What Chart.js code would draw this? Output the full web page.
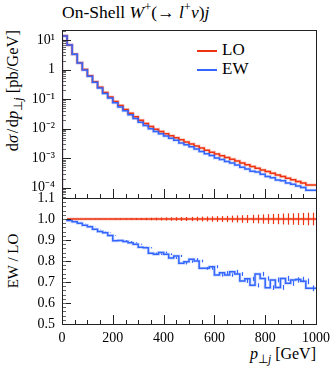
<!DOCTYPE html>
<html>
<head>
<meta charset="utf-8">
<script src="https://cdn.jsdelivr.net/npm/chart.js@4.4.1/dist/chart.umd.min.js"></script>
<style>
  body { margin: 0; background: #fff; }
  #wrap { position: relative; width: 332px; height: 367px; font-family: "Liberation Serif", serif; color: #000; overflow: hidden; }
  canvas { position: absolute; left: 0; }
  .t { position: absolute; white-space: nowrap; line-height: 1; }
  .t sup, .t sub { font-size: 72%; line-height: 0; }
  .sw { position: absolute; height: 2px; }
  .m { margin: 0 1.5px; }
</style>
</head>
<body>
<div id="wrap">
  <div class="t" style="left:62px;top:4px;font-size:17.5px;">On-Shell <i>W</i><sup>+</sup>(→ <i>l</i><sup>+</sup><i>ν</i>)<i>j</i></div>
  <div class="t" style="left:13px;top:30px;font-size:16.5px;transform-origin:0 0;transform:rotate(-90deg) translate(-100%,-50%);">d<i>σ</i><span class="m">/</span>d<i>p</i><sub>⊥<i>j</i></sub> [pb/GeV]</div>
  <div class="t" style="left:13px;top:261px;font-size:15px;transform-origin:0 0;transform:rotate(-90deg) translate(-50%,-50%);">EW / LO</div>
  <div class="t" style="right:16px;top:346px;font-size:16px;"><i>p</i><sub>⊥<i>j</i></sub> [GeV]</div>
  <div class="sw" style="left:197px;top:50px;width:20px;background:#ee3311;"></div>
  <div class="t" style="left:222px;top:41px;font-size:17px;">LO</div>
  <div class="sw" style="left:197px;top:69px;width:20px;background:#3366ff;"></div>
  <div class="t" style="left:222px;top:60px;font-size:17px;">EW</div>
  <canvas id="main" width="332" height="178" style="top:20px"></canvas>
  <canvas id="ratio" width="332" height="179" style="top:188px"></canvas>
</div>
<script>
// bin edges in GeV (20 GeV bins)
const binEdges = [0, 20, 40, 60, 80, 100, 120, 140, 160, 180, 200, 220, 240, 260, 280, 300,
  320, 340, 360, 380, 400, 420, 440, 460, 480, 500, 520, 540, 560, 580, 600, 620, 640, 660,
  680, 700, 720, 740, 760, 780, 800, 820, 840, 860, 880, 900, 920, 940, 960, 980, 1000];

// dsigma/dpT [pb/GeV] per bin, first bin empty
const loXsec = [0, 13.8, 6.76, 3.31, 1.70, 1.00, 0.617, 0.389, 0.251, 0.166, 0.1175, 0.0832,
  0.0603, 0.0447, 0.0331, 0.0251, 0.0191, 0.0148, 0.01175, 0.00955, 0.00794, 0.00676, 0.00575,
  0.0049, 0.00417, 0.00355, 0.00302, 0.00257, 0.00219, 0.00186, 0.00158, 0.00138, 0.0012,
  0.00105, 0.000912, 0.000794, 0.000692, 0.000603, 0.000525, 0.000457, 0.000398, 0.000355,
  0.000309, 0.000269, 0.00024, 0.000209, 0.000186, 0.000162, 0.000145, 0.000123];
const ewXsec = [0, 13.73, 6.71, 3.27, 1.666, 0.970, 0.594, 0.370, 0.236, 0.155, 0.1083, 0.0746,
  0.0541, 0.0399, 0.0294, 0.0221, 0.01652, 0.01277, 0.00983, 0.00795, 0.00668, 0.00562, 0.00468,
  0.00404, 0.00329, 0.00283, 0.00244, 0.002056, 0.001675, 0.001423, 0.001221, 0.001012, 0.000893,
  0.00077, 0.000683, 0.000586, 0.000488, 0.000431, 0.000359, 0.000337, 0.000285, 0.000239,
  0.000219, 0.000181, 0.000172, 0.000145, 0.000132, 0.000115, 0.000102, 0.0000824];

// ratio to LO, bins from 20 GeV on
const loRatio = [1, 1, 1, 1, 1, 1, 1, 1, 1, 1, 1, 1, 1, 1, 1, 1, 1, 1, 1, 1, 1, 1, 1, 1, 1,
  1, 1, 1, 1, 1, 1, 1, 1, 1, 1, 1, 1, 1, 1, 1, 1, 1, 1, 1, 1, 1, 1, 1, 1];
const ewRatio = [0.995, 0.993, 0.987, 0.980, 0.970, 0.963, 0.951, 0.940, 0.935, 0.922,
  0.897, 0.898, 0.893, 0.887, 0.880, 0.865, 0.863, 0.837, 0.832, 0.841,
  0.832, 0.814, 0.824, 0.789, 0.797, 0.808, 0.800, 0.765, 0.765, 0.773,
  0.733, 0.744, 0.733, 0.749, 0.738, 0.705, 0.715, 0.684, 0.738, 0.717,
  0.673, 0.710, 0.674, 0.717, 0.694, 0.710, 0.712, 0.703, 0.670];
const loRatioErr = [0.0005, 0.0005, 0.0007, 0.0009, 0.001, 0.0012, 0.0015, 0.0018, 0.002, 0.0025,
  0.003, 0.0035, 0.004, 0.0045, 0.005, 0.0055, 0.006, 0.0065, 0.007, 0.0075,
  0.008, 0.0085, 0.009, 0.0095, 0.010, 0.011, 0.0115, 0.012, 0.013, 0.0135,
  0.014, 0.015, 0.016, 0.017, 0.018, 0.019, 0.020, 0.021, 0.022, 0.023,
  0.024, 0.025, 0.026, 0.027, 0.027, 0.028, 0.029, 0.030, 0.030];
const ewRatioErr = [0.0003, 0.0003, 0.0004, 0.0005, 0.0006, 0.0007, 0.0008, 0.001, 0.0012, 0.0014,
  0.0016, 0.0018, 0.002, 0.0022, 0.0025, 0.0028, 0.003, 0.0033, 0.0036, 0.004,
  0.0043, 0.0046, 0.005, 0.0053, 0.0056, 0.006, 0.0063, 0.0066, 0.007, 0.0073,
  0.0076, 0.008, 0.0083, 0.0086, 0.009, 0.0093, 0.0096, 0.01, 0.0103, 0.0106,
  0.011, 0.0113, 0.0116, 0.012, 0.0123, 0.0126, 0.013, 0.0133, 0.0136];

const mainTickValues = [10, 1, 0.1, 0.01, 0.001, 0.0001];
const mainTickLabels = ["10¹", "1", "10⁻¹", "10⁻²", "10⁻³", "10⁻⁴"];
const ratioTickValues = [0.5, 0.6, 0.7, 0.8, 0.9, 1.0, 1.1];
const xTickValues = [0, 200, 400, 600, 800, 1000];

const RED = "#ee3311", BLUE = "#3366ff";
const RED_BAND = "rgba(238,51,17,0.25)", BLUE_BAND = "rgba(51,102,255,0.25)";
const MAIN_MIN = 4.48e-5, MAIN_MAX = 21.8;
Chart.defaults.font.family = "'Liberation Serif', serif";
Chart.defaults.font.size = 14;
Chart.defaults.color = "#000";

// histogram -> step points (last edge repeats last value); empty bins sit on the axis floor
function steps(edges, vals, floor) {
  const pts = vals.map((v, i) => ({ x: edges[i], y: v > 0 ? v : floor }));
  pts.push({ x: edges[vals.length], y: vals[vals.length - 1] });
  return pts;
}

// fixed plot box: no automatic label padding
function fixBox(s, size) {
  if (s.isHorizontal()) s.height = size; else s.width = size;
  s.paddingTop = s.paddingBottom = s.paddingLeft = s.paddingRight = 0;
}

// frame + inward ticks, Rivet style
const frameTicks = {
  id: "frameTicks",
  afterDraw(chart, args, o) {
    const { ctx, chartArea: a, scales } = chart;
    ctx.save();
    ctx.strokeStyle = "#222";
    ctx.lineWidth = 1;
    const seg = (x1, y1, x2, y2) => { ctx.beginPath(); ctx.moveTo(x1, y1); ctx.lineTo(x2, y2); ctx.stroke(); };
    for (let v = 0; v <= 1000; v += 50) {
      const px = Math.round(scales.x.getPixelForValue(v)) + 0.5;
      seg(px, a.bottom, px, a.bottom - (v % 200 === 0 ? 9 : 4));
    }
    o.yMajor.forEach(v => {
      const py = Math.round(scales.y.getPixelForValue(v)) + 0.5;
      seg(a.left, py, a.left + 9, py);
    });
    ctx.strokeStyle = "#666";
    o.yMinor.forEach(v => {
      if (v <= scales.y.min || v >= scales.y.max) return;
      const py = Math.round(scales.y.getPixelForValue(v)) + 0.5;
      seg(a.left, py, a.left + 4, py);
    });
    ctx.strokeStyle = "#222";
    ctx.strokeRect(Math.round(a.left) + 0.5, Math.round(a.top) + 0.5, Math.round(a.right - a.left), Math.round(a.bottom - a.top));
    ctx.restore();
  }
};

// vertical error bars at bin centres
const errorBars = {
  id: "errorBars",
  afterDatasetsDraw(chart) {
    const { ctx, chartArea: a, scales } = chart;
    ctx.save();
    ctx.beginPath();
    ctx.rect(a.left, a.top, a.right - a.left, a.bottom - a.top);
    ctx.clip();
    chart.data.datasets.forEach(ds => {
      if (!ds.errs) return;
      ctx.strokeStyle = ds.borderColor;
      ctx.lineWidth = 1.2;
      ds.errs.forEach((e, i) => {
        const lo = ds.data[i].x, hi = ds.data[i + 1].x;
        const px = Math.round((scales.x.getPixelForValue(lo) + scales.x.getPixelForValue(hi)) / 2) + 0.5;
        const v = ds.data[i].y;
        ctx.beginPath();
        ctx.moveTo(px, scales.y.getPixelForValue(v - e));
        ctx.lineTo(px, scales.y.getPixelForValue(v + e));
        ctx.stroke();
      });
    });
    ctx.restore();
  }
};

const logMinor = [];
for (let d = -5; d <= 1; d++) for (let k = 2; k <= 9; k++) logMinor.push(k * Math.pow(10, d));
const linMinor = [];
for (let v = 50; v <= 110; v += 2) linMinor.push(v / 100);

const lineDs = (label, data, color, width, order) => ({
  label, data, borderColor: color, borderWidth: width, stepped: "after",
  pointRadius: 0, fill: false, order, tension: 0
});

const noGrid = { display: false, drawTicks: false };

new Chart(document.getElementById("main"), {
  type: "line",
  data: {
    datasets: [
      lineDs("EW", steps(binEdges, ewXsec, MAIN_MIN), BLUE, 1.5, 0),
      lineDs("LO", steps(binEdges, loXsec, MAIN_MIN), RED, 1.5, 1),
      lineDs("EW band", steps(binEdges, ewXsec, MAIN_MIN), BLUE_BAND, 3, 2),
      lineDs("LO band", steps(binEdges, loXsec, MAIN_MIN), RED_BAND, 3, 3)
    ]
  },
  options: {
    responsive: false, animation: false,
    layout: { padding: { left: 0, right: 16, top: 10, bottom: 0 } },
    plugins: { legend: { display: false }, tooltip: { enabled: false },
      frameTicks: { yMajor: mainTickValues, yMinor: logMinor } },
    scales: {
      x: { type: "linear", min: 0, max: 1000, display: false },
      y: {
        type: "logarithmic", min: MAIN_MIN, max: MAIN_MAX,
        grid: noGrid, border: { display: false },
        ticks: { padding: 7, callback: v => { const i = mainTickValues.indexOf(v); return i >= 0 ? mainTickLabels[i] : ""; } },
        afterBuildTicks: s => { s.ticks = mainTickValues.map(v => ({ value: v })); },
        afterFit: s => fixBox(s, 62)
      }
    }
  },
  plugins: [frameTicks]
});

const ratioEdges = binEdges.slice(1);
const loR = Object.assign(lineDs("LO", steps(ratioEdges, loRatio, 0.5), RED, 1.5, 0), { errs: loRatioErr });
const ewR = Object.assign(lineDs("EW", steps(ratioEdges, ewRatio, 0.5), BLUE, 1.5, 1), { errs: ewRatioErr });

new Chart(document.getElementById("ratio"), {
  type: "line",
  data: {
    datasets: [
      loR, ewR,
      lineDs("LO band", steps(ratioEdges, loRatio, 0.5), RED_BAND, 3, 2),
      lineDs("EW band", steps(ratioEdges, ewRatio, 0.5), BLUE_BAND, 3, 3)
    ]
  },
  options: {
    responsive: false, animation: false,
    layout: { padding: { left: 0, right: 16, top: 10, bottom: 0 } },
    plugins: { legend: { display: false }, tooltip: { enabled: false },
      frameTicks: { yMajor: ratioTickValues, yMinor: linMinor } },
    scales: {
      x: {
        type: "linear", min: 0, max: 1000,
        grid: noGrid, border: { display: false },
        ticks: { padding: 6, autoSkip: false, maxRotation: 0, callback: v => String(v) },
        afterBuildTicks: s => { s.ticks = xTickValues.map(v => ({ value: v })); },
        afterFit: s => fixBox(s, 43)
      },
      y: {
        type: "linear", min: 0.5, max: 1.1,
        grid: noGrid, border: { display: false },
        ticks: { padding: 7, callback: v => v.toFixed(1) },
        afterBuildTicks: s => { s.ticks = ratioTickValues.map(v => ({ value: v })); },
        afterFit: s => fixBox(s, 62)
      }
    }
  },
  plugins: [frameTicks, errorBars]
});
</script>
</body>
</html>
